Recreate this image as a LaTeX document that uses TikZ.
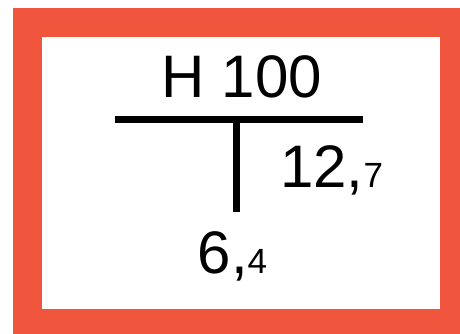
\documentclass[tikz,border=0pt]{standalone}
\usepackage{fontspec}
\setmainfont{Liberation Sans}
\definecolor{frame}{RGB}{240,85,62}
\begin{document}
\begin{tikzpicture}[x=1pt,y=-1pt,
  big/.style={inner sep=0pt,font=\fontsize{60}{60}\selectfont},
  bar/.style={line width=7pt,black}]
\useasboundingbox (0,0) rectangle (460,334);
\fill[white] (0,0) rectangle (460,334);
\fill[frame] (13,8) rectangle (460,334);
\fill[white] (42,37) rectangle (440,309);
\node[big,anchor=base] (title) at (242,98) {H 100};
\node[big,anchor=base west] (right) at (280,187) {12,{\fontsize{35}{35}\selectfont 7}};
\node[big,anchor=base west] (bottom) at (197.5,273) {6,{\fontsize{35}{35}\selectfont 4}};
\coordinate (hl) at (115,119.5);
\coordinate (hr) at (363,119.5);
\coordinate (vt) at (236,119.5);
\coordinate (vb) at (236,212);
\draw[bar] (hl) -- (hr);
\draw[bar] (vt) -- (vb);
\end{tikzpicture}
\end{document}
